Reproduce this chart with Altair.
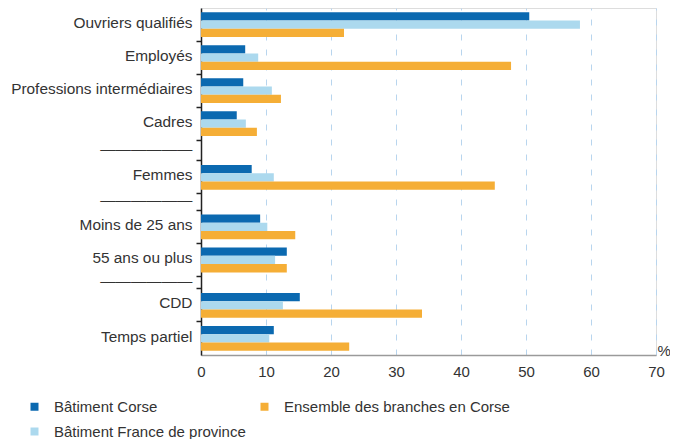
import altair as alt
import pandas as pd

# ---- data -------------------------------------------------------------
groups = [
    ["Ouvriers qualifiés", "Employés", "Professions intermédiaires", "Cadres"],
    ["Femmes"],
    ["Moins de 25 ans", "55 ans ou plus"],
    ["CDD", "Temps partiel"],
]
categories = [c for g in groups for c in g]

series = ["Bâtiment Corse", "Bâtiment France de province", "Ensemble des branches en Corse"]
batiment_corse = [50.5, 6.8, 6.5, 5.5, 7.8, 9.1, 13.2, 15.2, 11.2]
batiment_france = [58.3, 8.8, 10.9, 6.9, 11.2, 10.2, 11.4, 12.6, 10.5]
ensemble_corse = [22.0, 47.7, 12.3, 8.6, 45.2, 14.5, 13.2, 34.0, 22.8]
x_ticks = [0, 10, 20, 30, 40, 50, 60, 70]

colors = ["#0b69b0", "#acd9ee", "#f5ae36"]

# ---- layout helpers: fine sub-slots (16 per row, separators of varying size)
ROW_UNITS = 16
SEP_UNITS = [10, 8, 6]

slots = []
axis_values = []
for gi, g in enumerate(groups):
    if gi > 0:
        n = SEP_UNITS[gi - 1]
        for k in range(n):
            if k == 0:
                name = f"sep{gi}|t"
            elif k == n // 2:
                name = f"sep{gi}|L"
            else:
                name = f"sep{gi}|{k}"
            slots.append(name)
            if k == 0 or k == n // 2:
                axis_values.append(name)
    for c in g:
        for k in range(ROW_UNITS):
            if k == 0:
                name = f"{c}|t"
            elif k == ROW_UNITS // 2:
                name = f"{c}|L"
            else:
                name = f"{c}|{k}"
            slots.append(name)
            if k == 0 or k == ROW_UNITS // 2:
                axis_values.append(name)

PLOT_W = 455
PLOT_H = 347
SUB = PLOT_H / len(slots)
ROW_PX = SUB * ROW_UNITS

rows = []
for i, c in enumerate(categories):
    for name, vals in zip(series, [batiment_corse, batiment_france, ensemble_corse]):
        rows.append({"slot": f"{c}|t", "series": name, "value": vals[i]})
df = pd.DataFrame(rows)

FONT = "Liberation Sans"
TXT = "#333333"

label_expr = (
    "indexof(datum.value, '|L') > 0 ? "
    "(indexof(datum.value, 'sep') == 0 ? '——————' : replace(datum.value, '|L', '')) : ''"
)

chart = alt.Chart(df).mark_bar().encode(
    x=alt.X(
        "value:Q",
        scale=alt.Scale(domain=[0, 70], nice=False),
        axis=alt.Axis(
            values=x_ticks, grid=True, gridDash=[6, 9], gridColor="#b8d5ee",
            gridWidth=1, ticks=False, domainColor="#9a9a9a", domainWidth=1.5,
            labelFontSize=15, labelColor=TXT, labelFont=FONT, labelPadding=9,
            labelFlush=False,
            title="%", titleX=456, titleY=-5, titleAlign="left",
            titleBaseline="middle", titleFontSize=15, titleFontWeight="normal",
            titleColor=TXT, titleFont=FONT,
        ),
    ),
    y=alt.Y(
        "slot:N",
        scale=alt.Scale(domain=slots, paddingInner=0, paddingOuter=0),
        axis=alt.Axis(
            values=axis_values, labelExpr=label_expr, bandPosition=0,
            title=None, domainColor="#222222", domainWidth=1.5,
            tickColor="#222222", tickSize=5, tickWidth=1.5,
            tickOpacity={"condition": {"test": "indexof(datum.value, '|t') > 0", "value": 1}, "value": 0},
            labelFontSize=15.4, labelColor=TXT, labelFont=FONT, labelPadding=4,
            labelBaseline="middle", labelLimit=300, labelOffset=-3,
        ),
    ),
    yOffset=alt.YOffset(
        "series:N",
        sort=series,
        scale=alt.Scale(range=[ROW_PX * 0.125, ROW_PX * 0.875], paddingInner=0, paddingOuter=0),
    ),
    color=alt.Color(
        "series:N",
        sort=series,
        scale=alt.Scale(domain=series, range=colors),
        legend=alt.Legend(
            title=None, orient="none", legendX=-174, legendY=391, columns=2,
            columnPadding=11, rowPadding=9, symbolType="square", symbolSize=64,
            symbolStrokeWidth=0, labelFontSize=15, labelColor=TXT, labelFont=FONT,
            labelOffset=12, labelLimit=400, padding=0,
        ),
    ),
).properties(
    width=PLOT_W,
    height=PLOT_H,
    autosize=alt.AutoSizeParams(type="none"),
    padding={"left": 193, "top": 0, "right": 14, "bottom": 84},
).configure_view(
    stroke="#d4e4f4", strokeWidth=2
).configure(font=FONT)

chart.save("out.html", embed_options={"renderer": "svg", "actions": False})
